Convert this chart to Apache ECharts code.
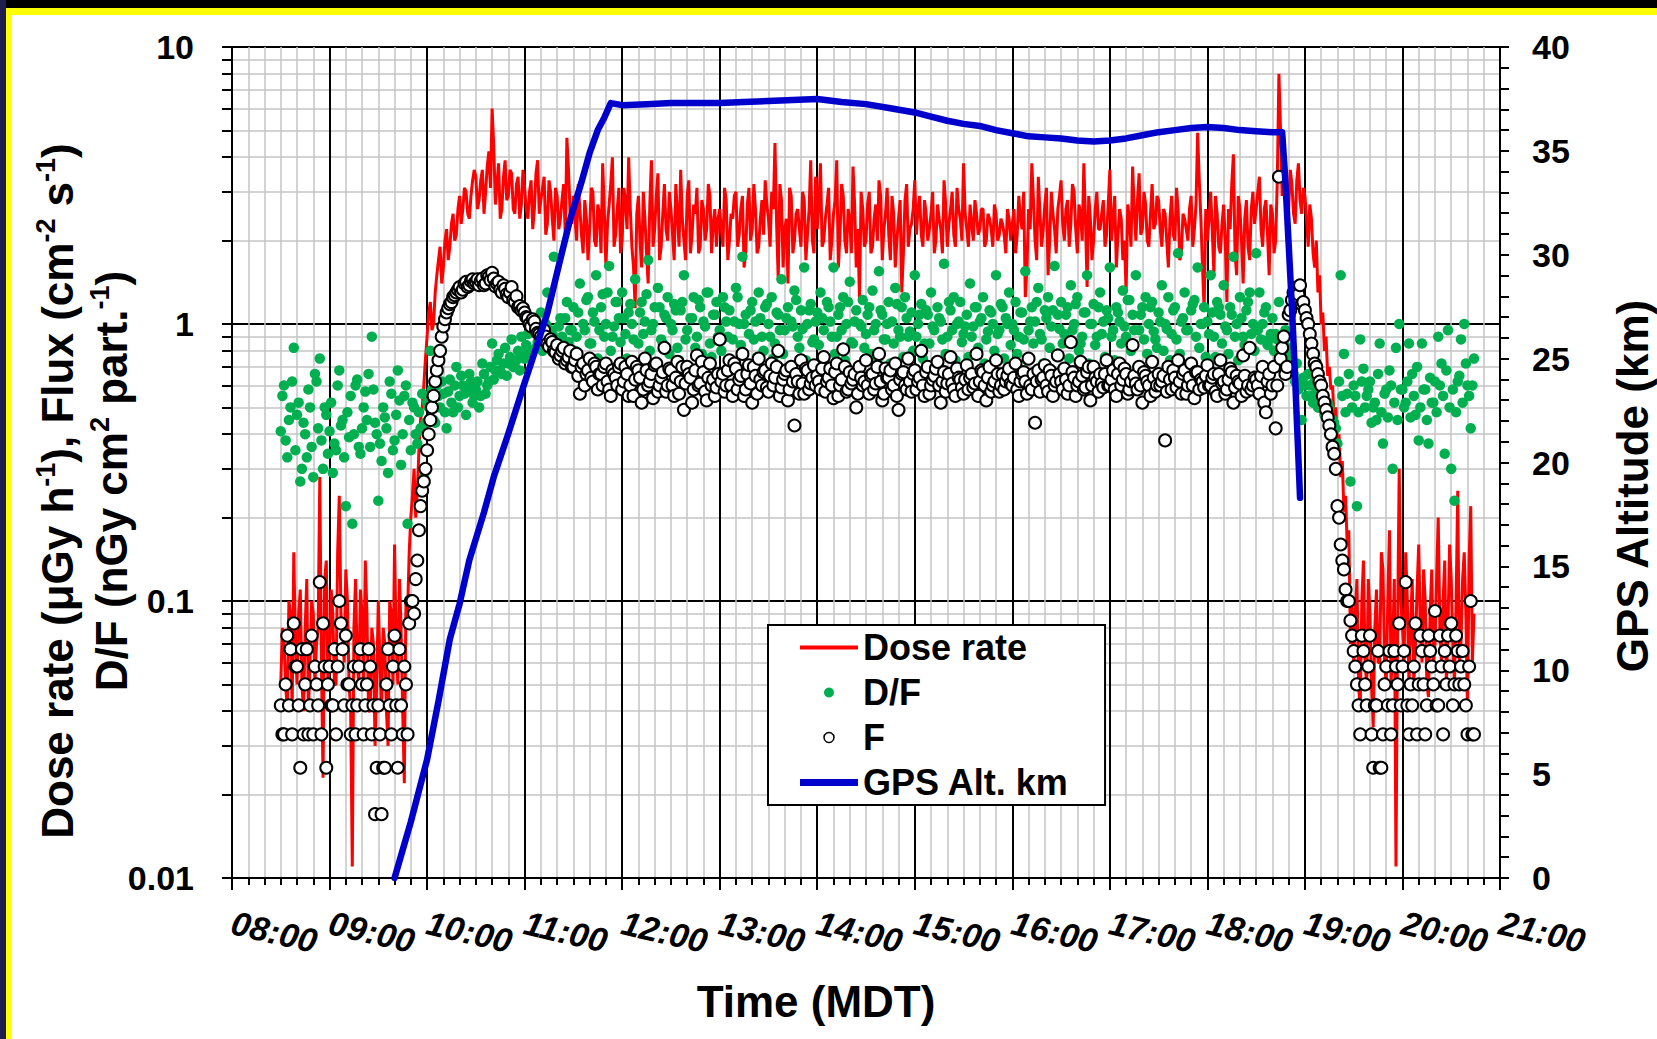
<!DOCTYPE html>
<html>
<head>
<meta charset="utf-8">
<title>Balloon flight: dose rate, flux and altitude</title>
<script src="https://cdn.jsdelivr.net/npm/echarts@6/dist/echarts.min.js"></script>
<style>
  html, body { margin: 0; padding: 0; background: #fff; }
  #chart { width: 1657px; height: 1039px; }
</style>
</head>
<body>
<div id="chart"></div>
<script>
// Detector records: even-minute readouts start at 08:30, odd-minute readouts at 08:31,
// each stream stepping 2 minutes.
const sampleStart = '08:30';
const oddSampleStart = '08:31';
const sampleStepMin = 2;

// Dose rate, µGy/h (even minutes)
const doseRate = [
  /* 08:30 */ 0.05, 0.07, 0.04, 0.09, 0.15, 0.05, 0.11, 0.04, 0.12, 0.06, 0.09, 0.07, 0.28, 0.023, 0.14,
  /* 09:00 */ 0.06, 0.09, 0.05, 0.24, 0.08, 0.13, 0.05, 0.011, 0.12, 0.05, 0.09, 0.14, 0.04, 0.08, 0.03,
  /* 09:30 */ 0.1, 0.04, 0.07, 0.03, 0.09, 0.16, 0.05, 0.08, 0.022, 0.09, 0.2, 0.3, 0.25, 0.45, 0.6,
  /* 10:00 */ 0.9, 1.2, 1.0, 1.5, 1.9, 1.6, 2.2, 1.9, 2.5, 2.1, 2.9, 2.6, 3.0, 2.4, 3.3,
  /* 10:30 */ 3.4, 2.8, 3.6, 3.0, 4.2, 6.0, 2.7, 3.8, 2.6, 3.9, 2.9, 3.5, 2.5, 3.4, 2.7,
  /* 11:00 */ 3.1, 2.4, 3.3, 2.6, 3.9, 2.8, 3.4, 2.3, 3.0, 2.0, 2.9, 2.4, 3.2, 4.7, 2.5,
  /* 11:30 */ 2.9, 2.0, 2.6, 1.8, 2.4, 2.2, 3.0, 1.9, 2.5, 3.8, 1.6, 2.7, 4.0, 2.1, 3.1,
  /* 12:00 */ 2.0, 2.8, 4.0, 1.9, 1.14, 2.9, 1.6, 2.4, 1.4, 3.9, 2.2, 3.5, 1.9, 3.2, 2.0,
  /* 12:30 */ 2.6, 1.7, 2.5, 3.6, 2.0, 2.9, 1.8, 2.7, 3.1, 1.9, 2.6, 2.2, 2.9, 2.3, 1.9,
  /* 13:00 */ 2.6, 1.9, 2.8, 2.0, 2.4, 3.0, 2.1, 2.9, 1.8, 3.1, 2.2, 2.6, 1.9, 2.8, 3.3,
  /* 13:30 */ 2.4, 3.0, 4.5, 1.45, 2.8, 2.2, 1.4, 2.9, 2.0, 2.6, 1.9, 2.8, 2.1, 3.9, 1.8,
  /* 14:00 */ 2.2, 3.8, 2.0, 2.7, 1.7, 2.5, 3.9, 2.1, 2.9, 1.8, 2.4, 3.7, 1.6, 1.22, 2.6,
  /* 14:30 */ 2.0, 3.0, 1.9, 2.7, 3.3, 1.7, 2.5, 2.1, 2.9, 1.6, 2.4, 1.3, 2.8, 1.9, 2.3,
  /* 15:00 */ 3.3, 2.6, 2.1, 2.8, 2.0, 2.5, 1.8, 2.7, 2.2, 3.3, 1.9, 2.6, 2.1, 3.1, 2.4,
  /* 15:30 */ 3.8, 2.2, 2.7, 2.0, 2.5, 2.2, 2.6, 2.0, 2.4, 1.9, 2.5, 2.1, 2.3, 1.8, 2.4,
  /* 16:00 */ 2.3, 1.8, 2.9, 2.2, 1.25, 2.6, 3.8, 2.0, 3.4, 1.9, 2.7, 1.5, 3.0, 2.2, 2.6,
  /* 16:30 */ 3.3, 2.0, 2.8, 2.3, 3.0, 1.8, 2.5, 3.8, 1.36, 2.4, 2.0, 3.0, 2.2, 2.8, 2.1,
  /* 17:00 */ 3.6, 2.4, 1.6, 2.6, 1.7, 1.3, 2.4, 3.7, 2.0, 3.5, 2.2, 2.7, 1.9, 3.2, 2.3,
  /* 17:30 */ 2.8, 1.9, 2.5, 1.6, 2.9, 2.0, 2.6, 1.8, 2.4, 2.0, 2.9, 2.2, 4.9, 2.4, 1.12,
  /* 18:00 */ 2.0, 3.0, 1.5, 2.5, 1.8, 2.7, 1.2, 2.2, 4.1, 1.5, 2.6, 1.4, 2.8, 1.7, 3.0,
  /* 18:30 */ 2.6, 3.4, 1.9, 2.8, 1.5, 2.5, 2.0, 8.0, 2.9, 4.0, 2.6, 3.2, 2.3, 3.8, 2.5,
  /* 19:00 */ 2.9, 1.9, 2.4, 1.6, 1.3, 1.0, 0.8, 0.65, 0.58, 0.45, 0.36, 0.28, 0.21, 0.16, 0.07,
  /* 19:30 */ 0.06, 0.12, 0.04, 0.14, 0.05, 0.09, 0.035, 0.11, 0.06, 0.13, 0.05, 0.18, 0.07, 0.011, 0.3,
  /* 20:00 */ 0.08, 0.15, 0.05, 0.12, 0.07, 0.16, 0.06, 0.1, 0.045, 0.13, 0.07, 0.2, 0.06, 0.14, 0.08,
  /* 20:30 */ 0.12, 0.05, 0.25, 0.07, 0.15, 0.04, 0.22, 0.09
];

// Dose rate, odd minutes
const doseRateOdd = [
  /* 08:31 */ 0.08, 0.05, 0.1, 0.04, 0.07, 0.09, 0.05, 0.08, 0.04, 0.1, 0.05, 0.08, 0.06, 0.12, 0.05,
  /* 09:01 */ 0.11, 0.05, 0.15, 0.09, 0.06, 0.1, 0.04, 0.08, 0.06, 0.11, 0.05, 0.09, 0.04, 0.07, 0.05,
  /* 09:31 */ 0.06, 0.08, 0.04, 0.1, 0.05, 0.07, 0.12, 0.04, 0.1, 0.15, 0.24, 0.2, 0.35, 0.5, 0.75,
  /* 10:01 */ 1.1, 0.95, 1.3, 1.7, 1.4, 2.0, 1.7, 2.3, 2.0, 2.6, 2.3, 3.1, 2.5, 2.9, 3.6,
  /* 10:31 */ 2.6, 3.3, 2.5, 3.7, 3.1, 4.4, 3.2, 2.4, 3.4, 2.8, 3.6, 2.6, 3.2, 2.4, 3.6,
  /* 11:01 */ 2.6, 3.0, 2.2, 3.5, 2.5, 3.1, 2.1, 3.3, 2.4, 3.1, 2.2, 2.8, 2.1, 3.6, 2.3,
  /* 11:31 */ 2.4, 3.2, 2.1, 2.8, 1.7, 3.1, 2.0, 2.7, 1.8, 2.6, 2.3, 3.2, 1.9, 2.6, 1.8,
  /* 12:01 */ 3.1, 2.2, 2.6, 1.6, 2.5, 2.0, 3.0, 1.8, 2.7, 1.9, 2.9, 1.7, 2.5, 2.2, 3.0,
  /* 12:31 */ 2.1, 3.2, 1.9, 2.4, 1.7, 3.3, 2.1, 2.5, 1.8, 2.8, 2.0, 3.2, 1.8, 2.6, 2.4,
  /* 13:01 */ 2.2, 3.1, 1.7, 2.5, 2.9, 1.9, 2.6, 1.6, 2.7, 2.0, 3.2, 1.8, 2.4, 2.1, 2.7,
  /* 13:31 */ 1.9, 2.6, 2.3, 3.2, 1.6, 2.4, 3.1, 1.8, 2.5, 2.2, 3.0, 1.7, 2.6, 2.0, 3.4,
  /* 14:01 */ 2.7, 1.9, 2.4, 3.1, 2.0, 2.8, 1.6, 3.2, 2.0, 2.6, 1.8, 2.7, 2.2, 3.0, 1.9,
  /* 14:31 */ 2.7, 1.8, 2.4, 2.0, 2.9, 2.2, 3.1, 1.7, 2.5, 2.0, 2.8, 1.8, 3.2, 2.2, 2.6,
  /* 15:01 */ 2.1, 2.9, 1.9, 2.5, 2.2, 3.0, 2.0, 2.4, 1.8, 2.7, 2.3, 3.0, 1.9, 2.6, 2.0,
  /* 15:31 */ 2.5, 1.9, 2.3, 2.8, 2.1, 2.6, 1.9, 2.5, 2.2, 2.7, 2.0, 2.4, 2.1, 2.6, 2.0,
  /* 16:01 */ 2.6, 2.1, 2.4, 3.0, 1.6, 2.2, 2.8, 1.7, 2.5, 2.2, 3.1, 2.0, 2.5, 1.8, 2.9,
  /* 16:31 */ 2.3, 2.6, 1.9, 3.2, 2.2, 2.7, 2.0, 2.4, 2.9, 1.7, 2.6, 2.2, 2.5, 1.9, 2.7,
  /* 17:01 */ 2.0, 2.9, 2.1, 2.4, 2.0, 2.7, 1.9, 2.6, 2.8, 2.1, 3.0, 2.0, 2.5, 2.2, 2.9,
  /* 17:31 */ 2.2, 2.6, 2.0, 2.4, 2.1, 3.1, 1.7, 2.5, 2.2, 2.6, 1.9, 2.7, 3.3, 1.6, 2.6,
  /* 18:01 */ 2.4, 2.2, 2.9, 1.9, 2.3, 2.0, 2.6, 3.2, 1.8, 2.9, 2.0, 2.4, 1.9, 2.6, 2.3,
  /* 18:31 */ 3.0, 2.2, 2.6, 2.1, 2.7, 1.8, 3.3, 5.0, 3.4, 2.8, 3.6, 2.5, 3.3, 2.8, 3.1,
  /* 19:01 */ 2.4, 2.7, 1.8, 2.0, 1.5, 1.1, 0.9, 0.7, 0.6, 0.5, 0.4, 0.32, 0.24, 0.18, 0.1,
  /* 19:31 */ 0.09, 0.05, 0.1, 0.06, 0.12, 0.05, 0.08, 0.06, 0.15, 0.06, 0.1, 0.05, 0.12, 0.08, 0.1,
  /* 20:01 */ 0.06, 0.1, 0.08, 0.05, 0.11, 0.08, 0.13, 0.05, 0.09, 0.06, 0.12, 0.08, 0.1, 0.05, 0.16,
  /* 20:31 */ 0.07, 0.1, 0.06, 0.12, 0.09, 0.14, 0.06
];

// Dose per unit fluence D/F, nGy cm2 per particle (even minutes)
const dfRatio = [
  /* 08:30 */ 0.41, 0.6, 0.33, 0.5, 0.82, 0.47, 0.27, 0.44, 0.33, 0.5, 0.28, 0.62, 0.75, 0.3, 0.47,
  /* 09:00 */ 0.41, 0.29, 0.35, 0.68, 0.45, 0.22, 0.39, 0.19, 0.6, 0.36, 0.42, 0.57, 0.66, 0.9, 0.44,
  /* 09:30 */ 0.23, 0.32, 0.46, 0.29, 0.56, 0.38, 0.68, 0.31, 0.55, 0.19, 0.35, 0.5, 0.37, 0.42, 0.28,
  /* 10:00 */ 0.52, 0.8, 0.45, 0.6, 0.5, 0.56, 0.42, 0.63, 0.48, 0.7, 0.55, 0.6, 0.47, 0.66, 0.52,
  /* 10:30 */ 0.58, 0.5, 0.72, 0.56, 0.62, 0.85, 0.68, 0.78, 0.66, 0.82, 0.72, 0.88, 0.7, 0.8, 0.9,
  /* 11:00 */ 0.75, 0.92, 0.8, 1.0, 0.86, 1.1, 0.9, 1.3, 0.95, 1.75, 0.88, 1.05, 0.82, 1.2, 0.95,
  /* 11:30 */ 1.15, 0.9, 1.4, 1.0, 1.22, 0.85, 1.1, 1.5, 0.95, 1.28, 1.0, 1.62, 0.9, 1.2, 1.05,
  /* 12:00 */ 1.3, 0.92, 1.1, 1.0, 1.45, 0.85, 1.2, 1.02, 1.7, 0.95, 1.15, 1.35, 0.88, 1.08, 1.25,
  /* 12:30 */ 1.0, 1.18, 0.82, 1.12, 1.5, 0.95, 1.05, 1.25, 0.9, 1.15, 1.02, 1.3, 0.85, 1.08, 1.2,
  /* 13:00 */ 0.95, 1.25, 1.02, 1.12, 0.88, 1.35, 1.0, 1.75, 1.08, 0.92, 1.2, 1.02, 1.3, 0.9, 1.15,
  /* 13:30 */ 1.0, 1.25, 0.85, 1.08, 1.45, 0.95, 1.15, 1.02, 1.32, 0.9, 1.12, 1.6, 1.0, 1.18, 0.88,
  /* 14:00 */ 1.1, 1.3, 0.95, 1.2, 1.02, 1.6, 0.9, 1.15, 1.25, 1.0, 1.42, 0.85, 1.12, 1.0, 1.22,
  /* 14:30 */ 0.92, 1.15, 1.32, 1.0, 1.55, 1.08, 0.88, 1.2, 1.02, 1.35, 0.95, 1.15, 1.25, 0.9, 1.1,
  /* 15:00 */ 1.5, 1.0, 1.18, 0.85, 1.08, 1.3, 0.95, 1.15, 1.02, 1.65, 0.9, 1.12, 1.25, 1.0, 1.2,
  /* 15:30 */ 0.92, 1.08, 1.4, 0.98, 1.15, 1.02, 1.25, 0.88, 1.12, 1.0, 1.5, 0.95, 1.15, 1.05, 1.3,
  /* 16:00 */ 1.0, 1.2, 0.9, 1.1, 1.55, 0.95, 1.15, 1.02, 1.35, 0.88, 1.12, 1.25, 0.98, 1.62, 1.08,
  /* 16:30 */ 1.2, 0.92, 1.15, 1.38, 1.0, 1.25, 0.85, 1.1, 1.5, 1.0, 1.18, 0.9, 1.3, 1.02, 1.12,
  /* 17:00 */ 1.6, 0.95, 1.15, 1.02, 1.32, 0.9, 1.22, 1.08, 1.5, 0.95, 1.15, 1.25, 1.0, 1.2, 0.88,
  /* 17:30 */ 1.1, 1.38, 1.0, 1.25, 0.92, 1.15, 1.8, 1.02, 1.3, 0.95, 1.12, 1.22, 1.6, 1.0, 1.15,
  /* 18:00 */ 1.02, 1.5, 0.9, 1.2, 1.08, 1.38, 0.95, 1.15, 1.75, 1.0, 1.25, 0.9, 1.12, 1.3, 1.0,
  /* 18:30 */ 1.8, 1.3, 1.0, 1.15, 0.88, 1.05, 0.92, 1.2, 0.8, 0.95, 0.75, 0.82, 0.62, 0.58, 0.45,
  /* 19:00 */ 0.6, 0.66, 0.55, 0.62, 0.5, 0.56, 0.47, 0.52, 0.41, 0.44, 0.37, 1.5, 0.78, 0.56, 0.27,
  /* 19:30 */ 0.6, 0.22, 0.88, 0.69, 0.55, 0.62, 0.5, 0.45, 0.85, 0.37, 0.58, 0.68, 0.3, 0.82, 1.0,
  /* 20:00 */ 0.58, 0.52, 0.85, 0.66, 0.47, 0.38, 0.85, 0.58, 0.37, 0.52, 0.62, 0.9, 0.72, 0.34, 0.95,
  /* 20:30 */ 0.3, 0.23, 0.62, 0.88, 1.0, 0.6, 0.42, 0.75
];

// D/F, odd minutes
const dfRatioOdd = [
  /* 08:31 */ 0.55, 0.38, 0.45, 0.62, 0.35, 0.52, 0.3, 0.4, 0.58, 0.36, 0.66, 0.42, 0.38, 0.5, 0.34,
  /* 09:01 */ 0.52, 0.37, 0.6, 0.43, 0.33, 0.48, 0.55, 0.4, 0.63, 0.34, 0.5, 0.45, 0.36, 0.58, 0.4,
  /* 09:31 */ 0.37, 0.5, 0.42, 0.62, 0.35, 0.47, 0.53, 0.4, 0.6, 0.45, 0.52, 0.4, 0.48, 0.56, 0.44,
  /* 10:01 */ 0.5, 0.58, 0.44, 0.55, 0.62, 0.48, 0.57, 0.52, 0.6, 0.5, 0.65, 0.56, 0.58, 0.62, 0.55,
  /* 10:31 */ 0.62, 0.55, 0.66, 0.6, 0.7, 0.63, 0.74, 0.68, 0.72, 0.65, 0.76, 0.7, 0.74, 0.68, 0.78,
  /* 11:01 */ 0.84, 0.78, 0.95, 0.82, 0.9, 0.8, 1.0, 0.86, 0.92, 0.8, 0.98, 0.9, 1.05, 0.86, 0.95,
  /* 11:31 */ 0.8, 1.1, 0.72, 0.95, 1.25, 0.85, 1.02, 0.75, 1.15, 0.9, 1.3, 0.8, 0.98, 1.2, 0.86,
  /* 12:01 */ 1.05, 0.75, 1.18, 0.88, 0.7, 1.1, 0.92, 1.28, 0.8, 1.0, 0.72, 1.15, 0.85, 1.05, 0.78,
  /* 12:31 */ 0.95, 1.12, 0.74, 1.2, 0.88, 0.7, 1.05, 0.82, 1.22, 0.78, 0.98, 1.3, 0.76, 1.08, 0.9,
  /* 13:01 */ 0.8, 1.15, 0.9, 0.72, 1.02, 1.25, 0.84, 1.0, 0.7, 1.12, 0.88, 0.76, 1.05, 0.8, 1.18,
  /* 13:31 */ 0.9, 0.75, 1.1, 0.95, 0.78, 1.05, 0.7, 0.98, 1.22, 0.82, 0.96, 0.74, 1.12, 0.86, 1.02,
  /* 14:01 */ 0.84, 1.05, 0.72, 1.15, 0.9, 0.78, 1.08, 0.95, 0.74, 1.2, 0.86, 1.02, 0.7, 0.98, 0.82,
  /* 14:31 */ 1.08, 0.78, 0.95, 0.74, 1.12, 0.88, 1.0, 0.72, 0.85, 1.18, 0.9, 0.76, 1.05, 0.94, 0.8,
  /* 15:01 */ 0.9, 1.08, 0.75, 1.12, 0.85, 0.98, 0.7, 1.05, 0.88, 0.78, 1.2, 0.95, 0.74, 1.02, 0.86,
  /* 15:31 */ 0.98, 0.76, 0.9, 1.15, 0.82, 1.05, 0.72, 0.94, 1.1, 0.8, 0.92, 1.18, 0.75, 1.0, 0.84,
  /* 16:01 */ 0.95, 0.78, 1.1, 0.88, 0.74, 1.02, 0.85, 1.2, 0.92, 0.72, 1.05, 0.82, 1.12, 0.78, 0.96,
  /* 16:31 */ 0.85, 1.08, 0.75, 0.95, 1.18, 0.8, 0.9, 1.1, 0.72, 1.0, 0.84, 1.15, 0.92, 0.76, 1.05,
  /* 17:01 */ 0.9, 0.74, 1.1, 0.85, 0.98, 1.22, 0.8, 0.95, 0.7, 1.08, 0.88, 0.78, 1.15, 0.94, 0.82,
  /* 17:31 */ 1.02, 0.8, 0.96, 0.74, 1.12, 0.88, 0.78, 1.05, 0.95, 0.72, 1.18, 0.9, 0.82, 1.0, 0.76,
  /* 18:01 */ 0.92, 1.1, 0.76, 1.15, 0.85, 0.98, 0.78, 1.08, 0.9, 0.74, 1.05, 0.84, 1.2, 0.92, 0.8,
  /* 18:31 */ 0.95, 0.88, 1.1, 0.84, 0.92, 0.8, 0.88, 0.76, 0.85, 0.7, 0.78, 0.66, 0.72, 0.6, 0.64,
  /* 19:01 */ 0.55, 0.6, 0.52, 0.58, 0.5, 0.54, 0.48, 0.5, 0.45, 0.42, 0.62, 0.55, 0.48, 0.66, 0.5,
  /* 19:31 */ 0.55, 0.48, 0.62, 0.5, 0.58, 0.44, 0.52, 0.66, 0.48, 0.56, 0.46, 0.6, 0.52, 0.45, 0.58,
  /* 20:01 */ 0.5, 0.62, 0.46, 0.55, 0.7, 0.5, 0.58, 0.45, 0.64, 0.52, 0.48, 0.6, 0.55, 0.68, 0.5,
  /* 20:31 */ 0.58, 0.48, 0.65, 0.52, 0.72, 0.55, 0.6
];

// Particle flux F, per cm2 per s (even minutes)
const flux = [
  /* 08:30 */ 0.042, 0.033, 0.075, 0.067, 0.083, 0.058, 0.025, 0.033, 0.067, 0.042, 0.033, 0.05, 0.117, 0.083, 0.025,
  /* 09:00 */ 0.058, 0.042, 0.033, 0.1, 0.067, 0.075, 0.05, 0.042, 0.033, 0.058, 0.05, 0.042, 0.067, 0.033, 0.017,
  /* 09:30 */ 0.042, 0.017, 0.025, 0.067, 0.033, 0.075, 0.025, 0.042, 0.058, 0.033, 0.1, 0.09, 0.14, 0.22, 0.27,
  /* 10:00 */ 0.35, 0.45, 0.55, 0.68, 0.8, 0.98, 1.1, 1.18, 1.25, 1.3, 1.36, 1.33, 1.42, 1.38, 1.45,
  /* 10:30 */ 1.42, 1.38, 1.46, 1.4, 1.48, 1.53, 1.37, 1.42, 1.3, 1.34, 1.25, 1.36, 1.2, 1.15, 1.12,
  /* 11:00 */ 1.1, 1.05, 0.98, 1.02, 0.93, 0.9, 0.95, 0.85, 0.88, 0.8, 0.84, 0.77, 0.82, 0.74, 0.8,
  /* 11:30 */ 0.7, 0.78, 0.56, 0.72, 0.66, 0.75, 0.62, 0.7, 0.66, 0.6, 0.72, 0.58, 0.68, 0.64, 0.7,
  /* 12:00 */ 0.58, 0.7, 0.55, 0.73, 0.63, 0.68, 0.52, 0.75, 0.6, 0.66, 0.71, 0.57, 0.64, 0.82, 0.6,
  /* 12:30 */ 0.68, 0.55, 0.73, 0.62, 0.49, 0.7, 0.64, 0.58, 0.77, 0.61, 0.67, 0.53, 0.72, 0.63, 0.59,
  /* 13:00 */ 0.88, 0.66, 0.6, 0.74, 0.55, 0.69, 0.63, 0.78, 0.58, 0.71, 0.52, 0.65, 0.75, 0.6, 0.68,
  /* 13:30 */ 0.57, 0.72, 0.64, 0.8, 0.59, 0.66, 0.53, 0.7, 0.43, 0.62, 0.74, 0.56, 0.68, 0.61, 0.71,
  /* 14:00 */ 0.65, 0.58, 0.76, 0.62, 0.69, 0.54, 0.72, 0.6, 0.81, 0.57, 0.67, 0.63, 0.5, 0.7, 0.6,
  /* 14:30 */ 0.74, 0.56, 0.66, 0.61, 0.78, 0.53, 0.69, 0.64, 0.58, 0.72, 0.49, 0.66, 0.6, 0.75, 0.57,
  /* 15:00 */ 0.68, 0.62, 0.8, 0.55, 0.7, 0.6, 0.65, 0.73, 0.52, 0.67, 0.61, 0.76, 0.58, 0.69, 0.63,
  /* 15:30 */ 0.56, 0.71, 0.64, 0.59, 0.78, 0.62, 0.67, 0.53, 0.7, 0.6, 0.74, 0.57, 0.66, 0.62, 0.69,
  /* 16:00 */ 0.6, 0.72, 0.55, 0.66, 0.62, 0.75, 0.58, 0.44, 0.68, 0.63, 0.71, 0.57, 0.65, 0.6, 0.77,
  /* 16:30 */ 0.62, 0.69, 0.56, 0.86, 0.64, 0.6, 0.73, 0.58, 0.67, 0.53, 0.7, 0.62, 0.66, 0.59, 0.74,
  /* 17:00 */ 0.6, 0.68, 0.55, 0.72, 0.63, 0.66, 0.58, 0.84, 0.61, 0.7, 0.52, 0.65, 0.6, 0.73, 0.57,
  /* 17:30 */ 0.66, 0.62, 0.38, 0.7, 0.58, 0.64, 0.74, 0.56, 0.68, 0.6, 0.72, 0.54, 0.67, 0.63, 0.59,
  /* 18:00 */ 0.71, 0.6, 0.66, 0.55, 0.74, 0.62, 0.58, 0.69, 0.52, 0.65, 0.61, 0.77, 0.57, 0.82, 0.6,
  /* 18:30 */ 0.63, 0.56, 0.7, 0.48, 0.66, 0.6, 0.42, 3.4, 0.82, 0.66, 1.08, 1.22, 1.35, 1.28, 1.18,
  /* 19:00 */ 1.12, 1.0, 0.85, 0.72, 0.66, 0.6, 0.52, 0.46, 0.4, 0.34, 0.22, 0.16, 0.13, 0.1, 0.085,
  /* 19:30 */ 0.066, 0.05, 0.033, 0.066, 0.042, 0.075, 0.025, 0.042, 0.025, 0.033, 0.058, 0.066, 0.042, 0.058, 0.083,
  /* 20:00 */ 0.058, 0.117, 0.033, 0.042, 0.083, 0.05, 0.066, 0.033, 0.075, 0.058, 0.092, 0.042, 0.058, 0.066, 0.075,
  /* 20:30 */ 0.083, 0.05, 0.066, 0.058, 0.05, 0.033, 0.1, 0.033
];

// F, odd minutes
const fluxOdd = [
  /* 08:31 */ 0.033, 0.05, 0.042, 0.033, 0.058, 0.042, 0.067, 0.05, 0.033, 0.075, 0.058, 0.042, 0.033, 0.058, 0.05,
  /* 09:01 */ 0.042, 0.067, 0.058, 0.083, 0.042, 0.05, 0.033, 0.058, 0.042, 0.067, 0.033, 0.05, 0.058, 0.042, 0.025,
  /* 09:31 */ 0.033, 0.025, 0.05, 0.042, 0.058, 0.042, 0.067, 0.033, 0.05, 0.083, 0.1, 0.12, 0.18, 0.25, 0.3,
  /* 10:01 */ 0.4, 0.5, 0.62, 0.74, 0.9, 1.04, 1.14, 1.2, 1.27, 1.33, 1.3, 1.4, 1.36, 1.43, 1.4,
  /* 10:31 */ 1.45, 1.43, 1.38, 1.5, 1.44, 1.46, 1.4, 1.33, 1.38, 1.28, 1.3, 1.22, 1.26, 1.16, 1.14,
  /* 11:01 */ 1.06, 1.0, 1.04, 0.96, 0.92, 0.88, 0.9, 0.83, 0.86, 0.79, 0.75, 0.8, 0.72, 0.76, 0.7,
  /* 11:31 */ 0.74, 0.65, 0.7, 0.6, 0.68, 0.64, 0.72, 0.58, 0.66, 0.7, 0.62, 0.55, 0.66, 0.6, 0.72,
  /* 12:01 */ 0.62, 0.66, 0.6, 0.55, 0.7, 0.64, 0.58, 0.68, 0.62, 0.54, 0.72, 0.6, 0.67, 0.57, 0.69,
  /* 12:31 */ 0.6, 0.64, 0.56, 0.7, 0.61, 0.66, 0.52, 0.68, 0.6, 0.73, 0.57, 0.64, 0.6, 0.55, 0.66,
  /* 13:01 */ 0.62, 0.57, 0.68, 0.6, 0.72, 0.58, 0.65, 0.55, 0.66, 0.61, 0.7, 0.56, 0.63, 0.67, 0.59,
  /* 13:31 */ 0.65, 0.6, 0.7, 0.55, 0.63, 0.68, 0.58, 0.62, 0.66, 0.56, 0.61, 0.69, 0.58, 0.64, 0.6,
  /* 14:01 */ 0.62, 0.69, 0.57, 0.64, 0.6, 0.67, 0.55, 0.63, 0.7, 0.58, 0.61, 0.66, 0.56, 0.64, 0.62,
  /* 14:31 */ 0.6, 0.65, 0.58, 0.7, 0.62, 0.56, 0.64, 0.68, 0.6, 0.55, 0.63, 0.67, 0.58, 0.62, 0.66,
  /* 15:01 */ 0.58, 0.64, 0.6, 0.67, 0.56, 0.63, 0.69, 0.6, 0.62, 0.57, 0.66, 0.61, 0.55, 0.64, 0.59,
  /* 15:31 */ 0.63, 0.58, 0.66, 0.61, 0.55, 0.68, 0.6, 0.64, 0.57, 0.62, 0.66, 0.6, 0.58, 0.65, 0.61,
  /* 16:01 */ 0.64, 0.58, 0.62, 0.67, 0.56, 0.6, 0.66, 0.62, 0.57, 0.64, 0.6, 0.68, 0.55, 0.62, 0.66,
  /* 16:31 */ 0.58, 0.63, 0.6, 0.67, 0.55, 0.62, 0.65, 0.59, 0.7, 0.6, 0.64, 0.57, 0.61, 0.66, 0.6,
  /* 17:01 */ 0.63, 0.58, 0.66, 0.6, 0.69, 0.56, 0.62, 0.65, 0.58, 0.6, 0.67, 0.62, 0.55, 0.64, 0.6,
  /* 17:31 */ 0.6, 0.65, 0.57, 0.63, 0.68, 0.59, 0.62, 0.66, 0.56, 0.64, 0.6, 0.67, 0.58, 0.62, 0.65,
  /* 18:01 */ 0.6, 0.64, 0.57, 0.66, 0.61, 0.56, 0.63, 0.67, 0.59, 0.62, 0.55, 0.65, 0.6, 0.58, 0.64,
  /* 18:31 */ 0.6, 0.65, 0.52, 0.62, 0.56, 0.7, 0.6, 0.75, 0.9, 0.7, 1.12, 1.3, 1.25, 1.38, 1.2,
  /* 19:01 */ 1.05, 0.92, 0.78, 0.7, 0.62, 0.55, 0.49, 0.43, 0.36, 0.3, 0.2, 0.14, 0.11, 0.1, 0.075,
  /* 19:31 */ 0.058, 0.042, 0.075, 0.05, 0.058, 0.033, 0.042, 0.066, 0.025, 0.05, 0.042, 0.033, 0.066, 0.05, 0.042,
  /* 20:01 */ 0.066, 0.042, 0.05, 0.058, 0.033, 0.075, 0.05, 0.042, 0.066, 0.05, 0.042, 0.075, 0.033, 0.05, 0.058,
  /* 20:31 */ 0.042, 0.075, 0.05, 0.066, 0.042, 0.058, 0.033
];

// GPS altitude track of the balloon
const gpsTime = [
  '09:40', '09:50', '10:00', '10:07', '10:14', '10:20', '10:26', '10:35', '10:41', '10:50',
  '10:59', '11:07', '11:14', '11:22', '11:28', '11:35', '11:40', '11:45', '11:49', '11:53',
  '12:00', '12:15', '12:30', '12:45', '13:00', '13:15', '13:30', '13:45', '14:00', '14:15',
  '14:30', '14:45', '15:00', '15:10', '15:20', '15:30', '15:40', '15:50', '16:00', '16:10',
  '16:20', '16:30', '16:40', '16:50', '17:00', '17:10', '17:20', '17:30', '17:40', '17:50',
  '18:00', '18:10', '18:20', '18:30', '18:40', '18:46', '18:48', '18:50', '18:52', '18:54', '18:57'
];
const gpsAltKm = [
  0, 2.7, 5.7, 8.5, 11.5, 13.2, 15.3, 17.6, 19.3, 21.4,
  23.6, 25.5, 27.2, 29.8, 31.7, 33.5, 34.9, 36.0, 36.6, 37.3,
  37.2, 37.25, 37.3, 37.3, 37.3, 37.35, 37.4, 37.45, 37.5, 37.35,
  37.25, 37.05, 36.85, 36.65, 36.45, 36.3, 36.2, 36.0, 35.85, 35.7,
  35.65, 35.6, 35.5, 35.45, 35.5, 35.6, 35.75, 35.9, 36.0, 36.1,
  36.15, 36.1, 36.0, 35.95, 35.9, 35.9, 33.5, 30.5, 27.5, 24.0, 18.3
];

// Axis tick labels
const timeTickLabels = ['08:00', '09:00', '10:00', '11:00', '12:00', '13:00', '14:00',
  '15:00', '16:00', '17:00', '18:00', '19:00', '20:00', '21:00'];
const doseTickLabels = ['0.01', '0.1', '1', '10'];
const altTickLabels = ['0', '5', '10', '15', '20', '25', '30', '35', '40'];

const FONT = '"Liberation Sans", Arial, Helvetica, sans-serif';

function toHours(hhmm) {
  const parts = hhmm.split(':').map(Number);
  return parts[0] + parts[1] / 60;
}
// pair each reading with its time (hours) for a stream that starts at `start`
function withTime(values, start) {
  const t0 = toHours(start);
  return values.map((v, i) => [t0 + i * sampleStepMin / 60, v]);
}
// both readout streams merged into one time-ordered record
function merged(evenValues, oddValues) {
  return withTime(evenValues, sampleStart)
    .concat(withTime(oddValues, oddSampleStart))
    .sort((a, b) => a[0] - b[0]);
}
const gpsTrack = gpsTime.map((s, i) => [toHours(s), gpsAltKm[i]]);

const BLACK_LINE = { color: '#000', width: 2 };
const GREY_LINE = { color: '#c4c4c4', width: 1.5 };
const tickFont = { fontSize: 34, fontWeight: 'bold', color: '#000', fontFamily: FONT };
const supStyle = { fontSize: 27, fontWeight: 'bold', fontFamily: FONT, fill: '#000', padding: [0, 0, 22, 0] };
const titleStyle = { fontSize: 44, fontWeight: 'bold', fontFamily: FONT, fill: '#000', align: 'center', verticalAlign: 'middle' };

const chart = echarts.init(document.getElementById('chart'), null, { renderer: 'svg' });

chart.setOption({
  animation: false,
  backgroundColor: '#fff',
  grid: {
    left: 232, top: 47, width: 1268, height: 831,
    show: true, borderColor: '#000', borderWidth: 2, backgroundColor: 'transparent'
  },
  xAxis: {
    type: 'value', min: 8, max: 21, interval: 1,
    axisLine: { show: true, onZero: false, lineStyle: BLACK_LINE },
    axisTick: { show: true, inside: false, length: 12, lineStyle: BLACK_LINE },
    minorTick: { show: true, splitNumber: 6, length: 7, lineStyle: BLACK_LINE },
    splitLine: { show: true, lineStyle: BLACK_LINE },
    minorSplitLine: { show: true, lineStyle: GREY_LINE },
    axisLabel: {
      rotate: -13, margin: 44, fontStyle: 'italic', fontSize: 34,
      fontWeight: 'bold', color: '#000', fontFamily: FONT,
      formatter: (v) => timeTickLabels[Math.round(v - 8)]
    }
  },
  yAxis: [
    {
      type: 'log', logBase: 10, min: 0.01, max: 10, position: 'left',
      axisLine: { show: true, onZero: false, lineStyle: BLACK_LINE },
      axisTick: { show: true, inside: false, length: 10, lineStyle: BLACK_LINE },
      minorTick: { show: true, splitNumber: 9, length: 10, lineStyle: BLACK_LINE },
      splitLine: { show: true, lineStyle: BLACK_LINE },
      minorSplitLine: { show: true, lineStyle: GREY_LINE },
      axisLabel: Object.assign({
        margin: 38,
        formatter: (v) => doseTickLabels[Math.round(Math.log10(v) + 2)]
      }, tickFont)
    },
    {
      type: 'value', min: 0, max: 40, interval: 5, position: 'right',
      axisLine: { show: true, onZero: false, lineStyle: BLACK_LINE },
      axisTick: { show: true, inside: false, length: 9, lineStyle: BLACK_LINE },
      minorTick: { show: true, splitNumber: 5, length: 9, lineStyle: BLACK_LINE },
      splitLine: { show: false },
      axisLabel: Object.assign({
        margin: 32,
        formatter: (v) => altTickLabels[Math.round(v / 5)]
      }, tickFont)
    }
  ],
  legend: {
    orient: 'vertical', left: 768, top: 625,
    padding: [0, 36, 0, 32], itemGap: 0, itemWidth: 58, itemHeight: 10,
    backgroundColor: '#fff', borderColor: '#000', borderWidth: 2,
    selectedMode: false,
    textStyle: { fontSize: 36, fontWeight: 'bold', color: '#000', fontFamily: FONT, lineHeight: 45 },
    data: [
      { name: 'Dose rate', icon: 'path://M0,0H58V4H0Z', itemStyle: { color: '#ff0000', borderWidth: 0 } },
      { name: 'D/F', icon: 'circle', itemStyle: { color: '#00b050', borderWidth: 0 } },
      { name: 'F', icon: 'circle', itemStyle: { color: '#fff', borderColor: '#000', borderWidth: 1.5 } },
      { name: 'GPS Alt. km', icon: 'path://M0,0H58V7H0Z', itemStyle: { color: '#0000cc', borderWidth: 0 } }
    ]
  },
  series: [
    {
      name: 'Dose rate', type: 'line', data: merged(doseRate, doseRateOdd),
      symbol: 'none', silent: true, z: 2,
      lineStyle: { color: '#ff0000', width: 3 }, itemStyle: { color: '#ff0000' }
    },
    {
      name: 'D/F', type: 'scatter', data: merged(dfRatio, dfRatioOdd),
      symbolSize: 10.5, silent: true, z: 3,
      itemStyle: { color: '#00b050', opacity: 1 }
    },
    {
      name: 'F', type: 'scatter', data: merged(flux, fluxOdd),
      symbolSize: 12, silent: true, z: 4,
      itemStyle: { color: '#fff', borderColor: '#000', borderWidth: 2, opacity: 1 }
    },
    {
      name: 'GPS Alt. km', type: 'line', yAxisIndex: 1, data: gpsTrack,
      symbol: 'none', silent: true, z: 5,
      lineStyle: { color: '#0000cc', width: 6.5, cap: 'round', join: 'round' },
      itemStyle: { color: '#0000cc' }
    }
  ],
  graphic: [
    // frame strips along the top and left edges
    { type: 'rect', silent: true, z: 100, shape: { x: 0, y: 0, width: 1657, height: 8 }, style: { fill: '#000' } },
    { type: 'rect', silent: true, z: 100, shape: { x: 0, y: 0, width: 6, height: 1039 }, style: { fill: '#1e1e4e' } },
    { type: 'rect', silent: true, z: 100, shape: { x: 6, y: 8, width: 1651, height: 7 }, style: { fill: '#ffff00' } },
    { type: 'rect', silent: true, z: 100, shape: { x: 6, y: 8, width: 6, height: 1031 }, style: { fill: '#ffff00' } },
    // axis titles
    {
      type: 'text', x: 57, y: 491, rotation: Math.PI / 2, silent: true,
      style: Object.assign({
        text: 'Dose rate (μGy h{sup|-1}), Flux (cm{sup|-2} s{sup|-1})',
        rich: { sup: supStyle }
      }, titleStyle)
    },
    {
      type: 'text', x: 111, y: 481, rotation: Math.PI / 2, silent: true,
      style: Object.assign({
        text: 'D/F (nGy cm{sup|2} part.{sup|-1})',
        rich: { sup: supStyle }
      }, titleStyle)
    },
    {
      type: 'text', x: 1632, y: 486, rotation: Math.PI / 2, silent: true,
      style: Object.assign({ text: 'GPS Altitude (km)' }, titleStyle)
    },
    {
      type: 'text', x: 816, y: 1001, silent: true,
      style: Object.assign({ text: 'Time (MDT)' }, titleStyle)
    }
  ]
});
</script>
</body>
</html>
